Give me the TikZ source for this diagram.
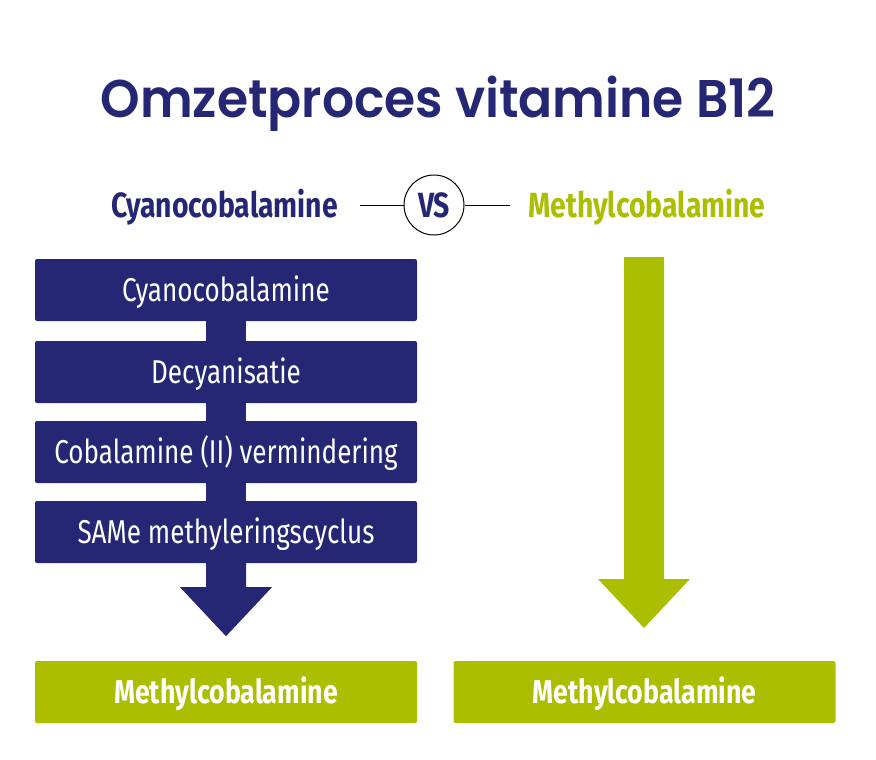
\documentclass[tikz,border=0pt]{standalone}
\usepackage{fontspec}
\setmainfont{Fira Sans}
\newfontfamily\titlefont[FakeStretch=0.95]{Poppins SemiBold}
\newfontfamily\condfont[FakeStretch=0.79]{Fira Sans}
\newfontfamily\condbold[FakeStretch=0.81]{Fira Sans Bold}
\usetikzlibrary{positioning}
\definecolor{NavyB12}{RGB}{38,39,116}
\definecolor{LimeB12}{RGB}{171,190,0}

\tikzset{
  stepbox/.style={fill=NavyB12, rounded corners=2pt, minimum width=382pt,
    minimum height=62pt, inner sep=0pt, text=white, text height=22.7pt,
    text depth=0pt, font=\condfont\fontsize{33}{33}\selectfont},
  resultbox/.style={stepbox, fill=LimeB12,
    font=\condbold\fontsize{33}{33}\selectfont},
  heading/.style={inner sep=0pt, text height=24pt, text depth=0pt,
    font=\condbold\fontsize{35}{35}\selectfont},
}

\begin{document}
\begin{tikzpicture}[x=1pt, y=-1pt]
  \useasboundingbox (0,0) rectangle (876,760);

  % title and comparison line
  \node[text=NavyB12, inner sep=0pt, text height=37pt, text depth=0pt,
        font=\titlefont\fontsize{53}{53}\selectfont]
    (title) at (438,99) {Omzetproces vitamine B12};
  \node[heading, circle, draw, line width=1pt, minimum size=60pt,
        text=NavyB12] (vs) at (434,205) {VS};
  \node[heading, text=NavyB12, anchor=east] (cyano) at (338,205) {Cyanocobalamine};
  \node[heading, text=LimeB12, anchor=west] (methyl) at (528,205) {Methylcobalamine};
  \draw[line width=1pt] ([xshift=22pt]cyano.east) -- (vs.west);
  \draw[line width=1pt] (vs.east) -- ([xshift=-18pt]methyl.west);

  % left: conversion steps
  \node[stepbox] (s1) at (226,290) {Cyanocobalamine};
  \node[stepbox] (s2) at (226,372) {Decyanisatie};
  \node[stepbox] (s3) at (226,452) {Cobalamine (II) vermindering};
  \node[stepbox] (s4) at (226,532) {SAMe methyleringscyclus};
  \foreach \a/\b in {s1/s2, s2/s3, s3/s4}
    \fill[NavyB12] ([xshift=-20pt]\a.south) rectangle ([xshift=20pt]\b.north);
  \fill[NavyB12] ([xshift=-20pt]s4.south) -- +(0,24) -- +(-26,24) -- +(20,73)
    -- +(66,24) -- +(40,24) -- +(40,0) -- cycle;

  % results
  \node[resultbox] (resL) at (226,692) {Methylcobalamine};
  \node[resultbox] (resR) at (644.5,692) {Methylcobalamine};
  \coordinate (topR) at (644,257);
  \fill[LimeB12] ([xshift=-20pt]topR) -- +(0,322) -- +(-26,322) -- +(20,371)
    -- +(66,322) -- +(40,322) -- +(40,0) -- cycle;
\end{tikzpicture}
\end{document}
